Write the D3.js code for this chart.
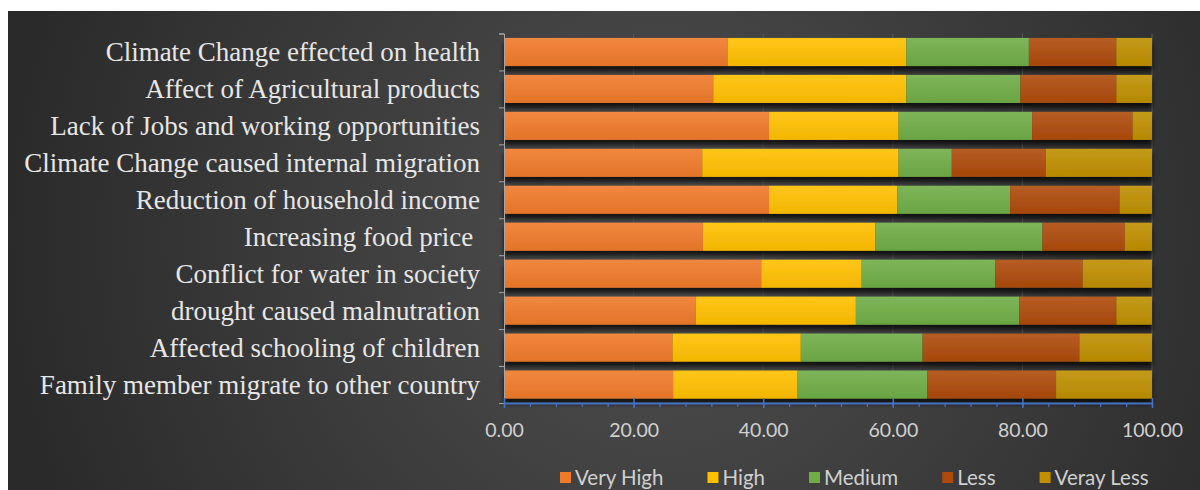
<!DOCTYPE html>
<html>
<head>
<meta charset="utf-8">
<script src="https://cdn.jsdelivr.net/npm/d3@7"></script>
<style>
  html, body { margin: 0; padding: 0; background: #fff; }
  svg { display: block; }
</style>
</head>
<body>
<svg id="chart" width="1200" height="490"></svg>
<script>
// categories, top to bottom as in the picture
var categories = [
    "Climate Change effected on health",
    "Affect of Agricultural products",
    "Lack of Jobs and working opportunities",
    "Climate Change caused internal migration",
    "Reduction of household income",
    "Increasing food price ",
    "Conflict for water in society",
    "drought caused malnutration",
    "Affected schooling of children",
    "Family member migrate to other country"
];
var seriesNames = ["Very High", "High", "Medium", "Less", "Veray Less"];
var veryHigh  = [34.5, 32.3, 40.9, 30.6, 40.9, 30.7, 39.7, 29.6, 26.0, 26.1];
var high      = [27.6, 29.8, 20.0, 30.3, 19.8, 26.6, 15.5, 24.7, 19.8, 19.2];
var medium    = [18.9, 17.6, 20.6,  8.2, 17.4, 25.8, 20.6, 25.2, 18.8, 20.0];
var less      = [13.5, 14.8, 15.5, 14.5, 16.9, 12.7, 13.5, 15.0, 24.2, 19.9];
var verayLess = [ 5.5,  5.5,  3.0, 16.4,  5.0,  4.2, 10.7,  5.5, 11.2, 14.8];
var xTicks = [0, 20, 40, 60, 80, 100];
var colors = ["#EF7A2A", "#FFC000", "#70AD47", "#AE4B0C", "#BF8F00"];

var svg = d3.select("#chart");
var defs = svg.append("defs");

// background panel with soft radial light
var bg = defs.append("radialGradient").attr("id", "bgGrad")
    .attr("gradientUnits", "userSpaceOnUse")
    .attr("cx", 660).attr("cy", 240).attr("r", 660);
bg.append("stop").attr("offset", "0%").attr("stop-color", "#505050");
bg.append("stop").attr("offset", "100%").attr("stop-color", "#2a2a2a");
svg.append("rect")
    .attr("x", 8).attr("y", 11).attr("width", 1192).attr("height", 479)
    .attr("fill", "url(#bgGrad)");

var shadow = defs.append("filter").attr("id", "barShadow")
    .attr("x", "-5%").attr("y", "-30%").attr("width", "110%").attr("height", "180%");
shadow.append("feDropShadow")
    .attr("dx", 0).attr("dy", 5).attr("stdDeviation", 2.5)
    .attr("flood-color", "#000").attr("flood-opacity", 0.75);

colors.forEach(function(c, i){
    var g = defs.append("linearGradient").attr("id", "barGrad" + i)
        .attr("x1", 0).attr("y1", 0).attr("x2", 0).attr("y2", 1);
    g.append("stop").attr("offset", "0%").attr("stop-color", d3.interpolateRgb(c, "#fff")(0.1));
    g.append("stop").attr("offset", "100%").attr("stop-color", d3.color(c).darker(0.15));
});

var x = d3.scaleLinear().domain([0, 100]).range([504, 1152]);
var y = d3.scaleBand().domain(categories).range([33.5, 403])
    .paddingInner(0.24).paddingOuter(0.12);
var yEdge = d3.scaleLinear().domain([0, categories.length]).range([33.5, 403]);

// gridlines
svg.append("g").selectAll("line")
    .data(xTicks.slice(1))
    .enter().append("line")
    .attr("x1", function(d){ return x(d); }).attr("x2", function(d){ return x(d); })
    .attr("y1", 33.5).attr("y2", 403)
    .attr("stroke", "#5a5a5a").attr("stroke-width", 1);

// stacked bars
var rows = categories.map(function(c, i){
    return { cat: c, "Very High": veryHigh[i], "High": high[i], "Medium": medium[i],
             "Less": less[i], "Veray Less": verayLess[i] };
});
var stacked = d3.stack().keys(seriesNames)(rows);

var bars = svg.append("g").attr("filter", "url(#barShadow)");
bars.selectAll("g")
    .data(stacked)
    .enter().append("g")
    .attr("fill", function(d, i){ return "url(#barGrad" + i + ")"; })
    .selectAll("rect")
    .data(function(d){ return d; })
    .enter().append("rect")
    .attr("x", function(d){ return x(d[0]); })
    .attr("width", function(d){ return x(Math.min(d[1], 100)) - x(d[0]); })
    .attr("y", function(d){ return y(d.data.cat); })
    .attr("height", y.bandwidth());

// y axis: line + ticks at category edges
var yAxis = svg.append("g").attr("transform", "translate(504,0)")
    .call(d3.axisLeft(yEdge).tickValues(d3.range(categories.length + 1)).tickFormat("").tickSize(5));
yAxis.select(".domain").attr("stroke", "#a6a6a6");
yAxis.selectAll(".tick line").attr("stroke", "#a6a6a6");

svg.append("g").selectAll("text")
    .data(categories)
    .enter().append("text")
    .attr("x", 480)
    .attr("y", function(d){ return y(d) + y.bandwidth() / 2; })
    .attr("dy", "0.35em")
    .attr("text-anchor", "end")
    .attr("font-family", "'Liberation Serif', 'Times New Roman', serif")
    .attr("font-size", 27)
    .attr("fill", "#e6e6e6")
    .style("white-space", "pre")
    .text(function(d){ return d; });

// x axis: minor ticks, then major ticks with labels
var minor = svg.append("g").attr("transform", "translate(0,403)")
    .call(d3.axisBottom(x).tickValues(d3.range(0, 101, 4)).tickFormat("").tickSize(4));
minor.select(".domain").remove();
minor.selectAll(".tick line").attr("stroke", "#4472C4").attr("stroke-width", 1.3);

var xAxis = svg.append("g").attr("transform", "translate(0,403)")
    .call(d3.axisBottom(x).tickValues(xTicks).tickFormat(d3.format(".2f"))
        .tickSizeInner(5).tickSizeOuter(0).tickPadding(15));
xAxis.select(".domain").attr("stroke", "#4472C4").attr("stroke-width", 2);
xAxis.selectAll(".tick line").attr("stroke", "#4472C4").attr("stroke-width", 1.5).attr("y1", -5);
xAxis.selectAll(".tick text")
    .attr("fill", "#d0d0d0")
    .attr("font-family", "Lato, 'Open Sans', sans-serif")
    .attr("font-size", 19.5);

// legend
var legend = svg.append("g").attr("transform", "translate(0,478)");
var legendX = 560;
seriesNames.forEach(function(name, i){
    var item = legend.append("g").attr("transform", "translate(" + legendX + ",0)");
    item.append("rect").attr("x", 0).attr("y", -6).attr("width", 11).attr("height", 11)
        .attr("fill", colors[i]);
    var t = item.append("text").attr("x", 15).attr("y", 0).attr("dy", "0.35em")
        .attr("font-family", "Lato, 'Open Sans', sans-serif")
        .attr("font-size", 20.5)
        .attr("fill", "#d0d0d0")
        .text(name);
    legendX += 15 + t.node().getComputedTextLength() + 44;
});
</script>
</body>
</html>
